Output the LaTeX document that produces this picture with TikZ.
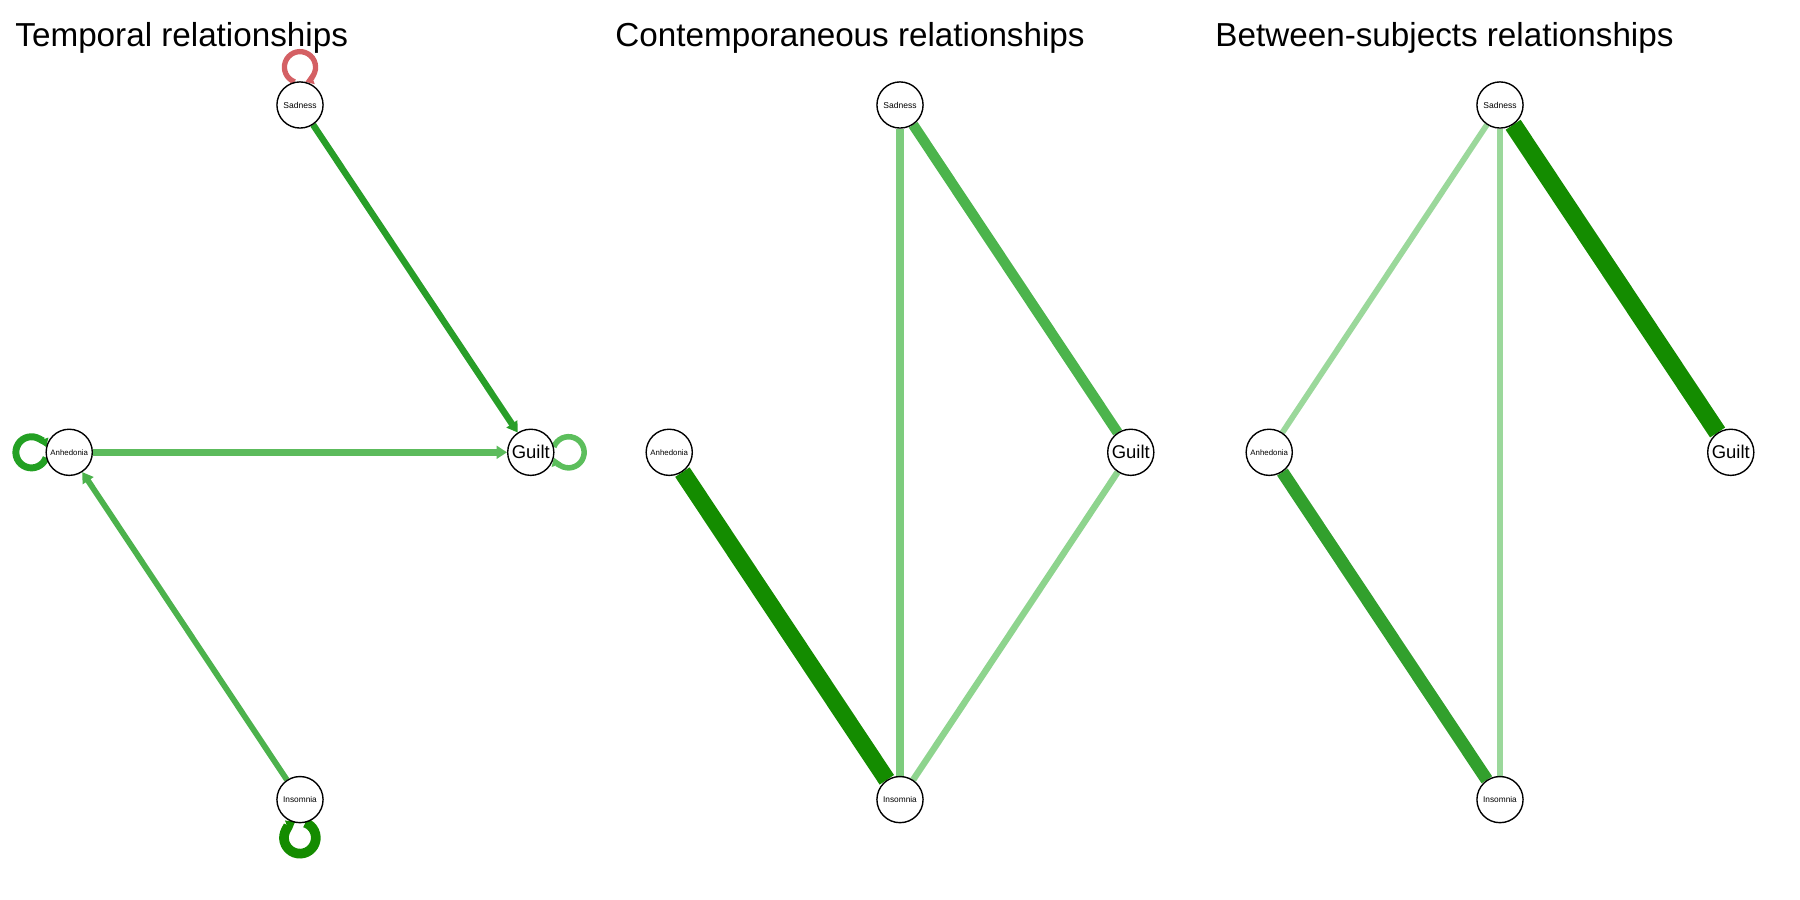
\documentclass[tikz,border=0pt]{standalone}
\usepackage{fontspec}
\setmainfont{Liberation Sans}
\usetikzlibrary{arrows.meta}
\pgfdeclarelayer{bg}
\pgfsetlayers{bg,main}
\definecolor{gdark}{RGB}{20,140,0}
\definecolor{gmid}{RGB}{50,160,45}
\definecolor{gsg}{RGB}{40,158,40}
\definecolor{gag}{RGB}{92,187,92}
\definecolor{gia}{RGB}{76,178,76}
\definecolor{gsg2}{RGB}{76,180,76}
\definecolor{gsi2}{RGB}{125,204,125}
\definecolor{ggi2}{RGB}{142,212,142}
\definecolor{glight}{RGB}{155,216,155}
\definecolor{loopA}{RGB}{35,160,35}
\definecolor{loopG}{RGB}{92,190,92}
\definecolor{loopR}{RGB}{212,96,100}
\begin{document}
\begin{tikzpicture}[x=0.5pt,y=0.5pt,
  vnode/.style={circle,draw=black,line width=0.6pt,fill=white,minimum size=20pt,inner sep=0pt,text=black},
  lsad/.style={font=\fontsize{3.7}{4}\selectfont},
  lanh/.style={font=\fontsize{3.4}{4}\selectfont},
  lins/.style={font=\fontsize{3.6}{4}\selectfont},
  lgui/.style={font=\fontsize{8}{9}\selectfont},
  ptitle/.style={anchor=base west,inner sep=0pt,font=\fontsize{14.4}{16}\selectfont},
  diredge/.style={-{Triangle[length=4.5pt,width=5.5pt]}},
  loopedge/.style={-{Triangle[length=3.5pt,width=4.5pt]}}]
\useasboundingbox (0,0) rectangle (1560,-780);

% titles
\node[ptitle] (t1) at (13,-40) {Temporal relationships};
\node[ptitle] (t2) at (533,-40) {Contemporaneous relationships};
\node[ptitle] (t3) at (1053,-40) {Between-subjects relationships};

% panel 1
\node[vnode,lsad] (s1) at (260,-91) {Sadness};
\node[vnode,lanh] (a1) at (60,-392) {Anhedonia};
\node[vnode,lgui] (g1) at (460,-392) {Guilt};
\node[vnode,lins] (i1) at (260,-693) {Insomnia};
% panel 2
\node[vnode,lsad] (s2) at (780,-91) {Sadness};
\node[vnode,lanh] (a2) at (580,-392) {Anhedonia};
\node[vnode,lgui] (g2) at (980,-392) {Guilt};
\node[vnode,lins] (i2) at (780,-693) {Insomnia};
% panel 3
\node[vnode,lsad] (s3) at (1300,-91) {Sadness};
\node[vnode,lanh] (a3) at (1100,-392) {Anhedonia};
\node[vnode,lgui] (g3) at (1500,-392) {Guilt};
\node[vnode,lins] (i3) at (1300,-693) {Insomnia};

\begin{pgfonlayer}{bg}
% panel 1 edges
\draw[diredge,draw=gsg,line width=2.8pt] (s1) -- (g1);
\draw[diredge,draw=gag,line width=2.8pt] (a1) -- (g1);
\draw[diredge,draw=gia,line width=2.5pt] (i1) -- (a1);
% loops
\draw[loopedge,draw=loopR,line width=2.3pt] (s1.103) arc[start angle=250,end angle=-70,radius=6.75pt];
\draw[loopedge,draw=loopA,line width=3pt] (a1.193) arc[start angle=-20,end angle=-340,radius=6.75pt];
\draw[loopedge,draw=loopG,line width=2.4pt] (g1.13) arc[start angle=160,end angle=-160,radius=6.75pt];
\draw[loopedge,draw=gdark,line width=4.2pt] (i1.-77) arc[start angle=70,end angle=-250,radius=6.9pt];
% panel 2 edges
\draw[draw=gdark,line width=7.5pt] (a2) -- (i2);
\draw[draw=gsi2,line width=3.6pt] (s2) -- (i2);
\draw[draw=gsg2,line width=4.5pt] (s2) -- (g2);
\draw[draw=ggi2,line width=2.8pt] (g2) -- (i2);
% panel 3 edges
\draw[draw=glight,line width=2.5pt] (s3) -- (a3);
\draw[draw=glight,line width=2.6pt] (s3) -- (i3);
\draw[draw=gdark,line width=7.8pt] (s3) -- (g3);
\draw[draw=gmid,line width=5.5pt] (a3) -- (i3);
\end{pgfonlayer}
\end{tikzpicture}
\end{document}
